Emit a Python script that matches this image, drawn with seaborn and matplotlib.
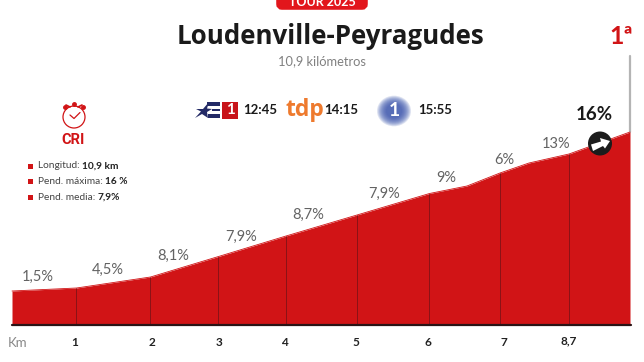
import matplotlib
matplotlib.use("Agg")
import matplotlib.pyplot as plt
from matplotlib.patches import Circle, Ellipse, FancyBboxPatch, Polygon, Rectangle
import pandas as pd
import seaborn as sns

sns.set_theme(style="white")
plt.rcParams["font.family"] = ["Lato", "DejaVu Sans"]

# Profile (picture pixels)
profile_x = [12, 76.5, 150.5, 218.5, 286, 357, 429.5, 467, 500, 529, 569, 630]
profile_top = [291, 288, 277, 256.5, 236, 215, 193.5, 186, 173, 163, 154, 132]
divider_x = [76.5, 150.5, 218.5, 286, 357, 429.5, 500, 569]
divider_top = [288, 277, 256.5, 236, 215, 193.5, 173, 154]
km_labels = ["1", "2", "3", "4", "5", "6", "7", "8,7"]
km_label_x = [75, 152, 219, 284, 356, 428, 504, 569]
slope_labels = ["1,5%", "4,5%", "8,1%", "7,9%", "8,7%", "7,9%", "9%", "6%", "13%"]
slope_x = [38, 108, 173, 241, 308, 384, 446, 504, 556]
slope_y = [277, 270, 255.5, 236.5, 214.5, 193.5, 177.5, 159.5, 143.5]
stats_names = ["Longitud: ", "Pend. máxima: ", "Pend. media: "]
stats_values = ["10,9 km", "16 %", "7,9%"]
stats_y = [166, 181.5, 197]

RED = "#d11416"
BASE = 325

fig = plt.figure(figsize=(6.44, 3.62), dpi=100)
ax = fig.add_axes([0, 0, 1, 1])

# Profile
profile = pd.DataFrame({"x": profile_x, "top": profile_top})
ax.fill_between(profile["x"], profile["top"], BASE, color=RED, lw=0, zorder=2)
sns.lineplot(data=profile, x="x", y="top", color=RED, lw=0.6, ax=ax, zorder=2)
ax.vlines(divider_x, divider_top, BASE, color="#8a1216", lw=0.7, zorder=3)
ax.plot([12, 631], [BASE, BASE], color="#2a1416", lw=1.6, zorder=4)
ax.plot([630, 630], [56, 132], color="#b4b4b4", lw=1.6, zorder=1)

for label, x, y in zip(slope_labels, slope_x, slope_y):
    ax.text(x, y, label, fontsize=10.5, color="#636363", ha="center", va="center")
for label, x in zip(km_labels, km_label_x):
    ax.text(x, 342.5 if label != "8,7" else 341, label, fontsize=8.5, fontweight="bold",
            color="#222222", ha="center", va="center")
ax.text(18, 343, "Km", fontsize=9.5, color="#888888", ha="center", va="center")

# Header
ax.add_patch(FancyBboxPatch((279, -8), 86, 15, boxstyle="round,pad=0,rounding_size=3",
                            mutation_aspect=1, fc="#e2161c", ec="#e2161c", lw=4))
ax.text(322.5, 2.5, "TOUR 2025", fontsize=9, fontweight="bold", color="white", ha="center", va="center")
ax.text(330.5, 37, "Loudenville-Peyragudes", fontsize=18.6, fontweight="bold", family="Open Sans",
        color="#1a1a1a", ha="center", va="center")
ax.text(322, 61, "10,9 kilómetros", fontsize=9.3, color="#808080", ha="center", va="center")
ax.text(621, 37, "1ª", fontsize=18, fontweight="bold", color=RED, ha="center", va="center")

# Stopwatch
ax.add_patch(Circle((74, 117), 11, fc="white", ec=RED, lw=0.9))
ax.plot([70, 74, 80], [115, 118.5, 112.5], color=RED, lw=0.9)
ax.plot([65, 74, 83], [107, 104, 107], color=RED, lw=0, marker="o", ms=2.5)
ax.plot([66, 70], [105, 107], color=RED, lw=1.2)
ax.plot([82, 78], [105, 107], color=RED, lw=1.2)
ax.text(73, 140, "CRI", fontsize=10.5, fontweight="bold", color=RED, family="Roboto",
        ha="center", va="center")

# Stats list
for name, value, y in zip(stats_names, stats_values, stats_y):
    ax.add_patch(Rectangle((28, y - 2.5), 5, 5, fc=RED, lw=0))
    t = ax.text(38, y, name, fontsize=7.3, color="#444444", ha="left", va="center")
    ax.annotate(value, xy=(1, 0.5), xycoords=t, fontsize=7.3, fontweight="bold",
                color="#222222", ha="left", va="center")

# Broadcasters
ax.add_patch(Polygon([(195, 118), (201, 111.5), (196, 109), (203, 109), (209, 102), (207, 108.5),
                      (212, 109), (207, 112), (208, 118), (202, 114)], fc="#232a66", lw=0))
ax.add_patch(Rectangle((207, 102), 13, 4, fc="#232a66", lw=0))
ax.add_patch(Rectangle((212, 108.5), 8, 2.5, fc="#232a66", lw=0))
ax.add_patch(Rectangle((208, 114), 12, 4, fc="#232a66", lw=0))
ax.add_patch(Rectangle((222, 102), 16, 16.5, fc="#c8141a", lw=0))
ax.text(230, 110.5, "1", fontsize=11, fontweight="bold", color="white", ha="center", va="center")
ax.text(260, 110, "12:45", fontsize=9.5, fontweight="bold", color="#1a1a1a", ha="center", va="center")
ax.text(305, 110.5, "tdp", fontsize=16.5, fontweight="bold", family="Open Sans", color="#ee7a2e",
        ha="center", va="center")
ax.text(341, 110, "14:15", fontsize=9.5, fontweight="bold", color="#1a1a1a", ha="center", va="center")
for r in range(17, 7, -1):
    ax.add_patch(Ellipse((394, 111), 2 * r, 1.8 * r, fc="#3a55ac", ec="none", alpha=0.17))
ax.text(394, 111, "1", fontsize=14, fontweight="bold", color="white", ha="center", va="center")
ax.text(435, 110, "15:55", fontsize=9.5, fontweight="bold", color="#1a1a1a", ha="center", va="center")

# Steepest point
ax.text(594.5, 115, "16%", fontsize=13.5, fontweight="bold", color="#1a1a1a", ha="center", va="center")
ax.add_patch(Circle((600, 143.5), 12, fc="#1c1c1c", lw=0, zorder=5))
ax.add_patch(Polygon([(591, 144.5), (601, 141.5), (600, 138), (610, 141), (605, 148.5), (603, 146),
                      (593, 151)], fc="white", lw=0, zorder=6))

ax.set_xlim(0, 644)
ax.set_ylim(362, 0)
ax.axis("off")

fig.savefig("out.png", dpi=100)
